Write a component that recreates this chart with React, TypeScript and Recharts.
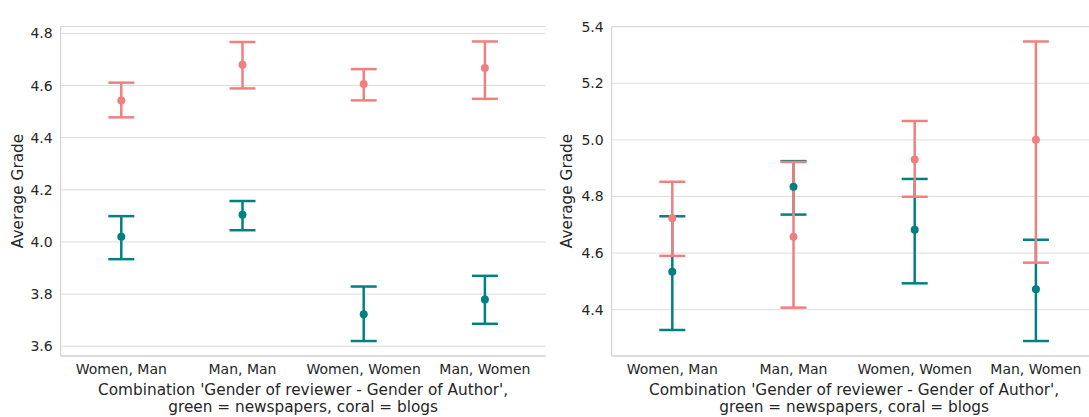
import React from "react";
import { ComposedChart, Line, XAxis, YAxis, CartesianGrid, ErrorBar } from "recharts";

const categories = ["Women, Man", "Man, Man", "Women, Women", "Man, Women"];

// 'Crime & mystery'
const crimeNewsMean = [4.02, 4.104, 3.723, 3.779];
const crimeNewsLow = [3.934, 4.045, 3.62, 3.686];
const crimeNewsHigh = [4.099, 4.157, 3.829, 3.87];
const crimeBlogMean = [4.543, 4.68, 4.606, 4.667];
const crimeBlogLow = [4.478, 4.589, 4.543, 4.549];
const crimeBlogHigh = [4.611, 4.767, 4.663, 4.769];
const crimeTicks = [3.6, 3.8, 4.0, 4.2, 4.4, 4.6, 4.8];

// 'International classics'
const classicNewsMean = [4.534, 4.834, 4.682, 4.472];
const classicNewsLow = [4.328, 4.736, 4.493, 4.289];
const classicNewsHigh = [4.73, 4.925, 4.862, 4.647];
const classicBlogMean = [4.723, 4.658, 4.931, 5.001];
const classicBlogLow = [4.59, 4.407, 4.799, 4.566];
const classicBlogHigh = [4.852, 4.922, 5.067, 5.348];
const classicTicks = [4.4, 4.6, 4.8, 5.0, 5.2, 5.4];

const TEAL = "#008080";
const CORAL = "#f08080";
const TEXT = "#262626";
const GRID = "#dcdcdc";
const SPINE = "#cccccc";
const FONT = "'DejaVu Sans', sans-serif";

function buildRows(nm: number[], nl: number[], nh: number[], bm: number[], bl: number[], bh: number[]) {
  return categories.map((cat, i) => ({
    cat,
    nm: nm[i],
    nErr: [nm[i] - nl[i], nh[i] - nm[i]],
    bm: bm[i],
    bErr: [bm[i] - bl[i], bh[i] - bm[i]],
  }));
}

// matplotlib-style 5% margin around the data extent
function padded(lows: number[], highs: number[]): [number, number] {
  const lo = Math.min(...lows);
  const hi = Math.max(...highs);
  const m = (hi - lo) * 0.05;
  return [lo - m, hi + m];
}

interface PanelProps {
  title: string;
  rows: ReturnType<typeof buildRows>;
  domain: [number, number];
  ticks: number[];
  left: number;
  width: number;
  yAxisWidth: number;
  yLabelX: number;
}

function Panel({ title, rows, domain, ticks, left, width, yAxisWidth, yLabelX }: PanelProps) {
  const tick = { fontSize: 14, fill: TEXT, fontFamily: FONT };
  return (
    <div style={{ position: "absolute", left, top: 0 }}>
      <ComposedChart width={width} height={417} data={rows} margin={{ top: 26.5, right: 0.5, bottom: 0, left: 0 }}>
        <CartesianGrid vertical={false} stroke={GRID} strokeWidth={1} />
        <XAxis
          dataKey="cat" scale="band" interval={0} height={61} tickLine={false}
          axisLine={{ stroke: SPINE }} tick={tick}
          label={{
            content: ({ viewBox }: any) => {
              const cx = viewBox.x + viewBox.width / 2;
              return (
                <text x={cx} y={395} textAnchor="middle" fill={TEXT} fontSize={15.3} fontFamily={FONT}>
                  <tspan x={cx} y={395}>Combination 'Gender of reviewer - Gender of Author',</tspan>
                  <tspan x={cx} y={412}>green = newspapers, coral = blogs</tspan>
                </text>
              );
            },
          }}
        />
        <XAxis
          xAxisId="top" orientation="top" dataKey="cat" scale="band" height={0} tick={false} tickLine={false}
          axisLine={{ stroke: SPINE }}
          label={{
            content: ({ viewBox }: any) => (
              <text x={viewBox.x + viewBox.width / 2} y={20} textAnchor="middle" fill={TEXT} fontSize={15.3} fontFamily={FONT}>
                {title}
              </text>
            ),
          }}
        />
        <YAxis
          type="number" domain={domain} ticks={ticks} allowDataOverflow width={yAxisWidth}
          tickLine={false} axisLine={{ stroke: SPINE }} tick={tick}
          tickFormatter={(v: number) => v.toFixed(1)}
          label={{
            content: () => (
              <text
                x={yLabelX} y={191} textAnchor="middle" dominantBaseline="central"
                transform={`rotate(-90, ${yLabelX}, 191)`} fill={TEXT} fontSize={15.3} fontFamily={FONT}
              >
                Average Grade
              </text>
            ),
          }}
        />
        <YAxis
          yAxisId="right" orientation="right" type="number" domain={domain} allowDataOverflow width={0}
          tick={false} tickLine={false} axisLine={{ stroke: SPINE }}
        />
        <Line dataKey="nm" stroke="none" dot={false} activeDot={false} isAnimationActive={false}>
          <ErrorBar dataKey="nErr" width={13} stroke={TEAL} strokeWidth={2.5} direction="y" isAnimationActive={false} />
        </Line>
        <Line dataKey="bm" stroke="none" dot={false} activeDot={false} isAnimationActive={false}>
          <ErrorBar dataKey="bErr" width={13} stroke={CORAL} strokeWidth={2.5} direction="y" isAnimationActive={false} />
        </Line>
        <Line
          dataKey="nm" stroke="none" activeDot={false} isAnimationActive={false}
          dot={{ r: 4, fill: TEAL, stroke: "none" }}
        />
        <Line
          dataKey="bm" stroke="none" activeDot={false} isAnimationActive={false}
          dot={{ r: 4, fill: CORAL, stroke: "none" }}
        />
      </ComposedChart>
    </div>
  );
}

export default function App() {
  const crimeRows = buildRows(crimeNewsMean, crimeNewsLow, crimeNewsHigh, crimeBlogMean, crimeBlogLow, crimeBlogHigh);
  const classicRows = buildRows(
    classicNewsMean, classicNewsLow, classicNewsHigh, classicBlogMean, classicBlogLow, classicBlogHigh,
  );
  return (
    <div
      style={{
        position: "absolute", left: 0, top: 0, width: 1089, height: 417,
        overflow: "hidden", background: "#fff", fontFamily: FONT,
      }}
    >
      <Panel
        title="'Crime & mystery': Average grades"
        rows={crimeRows}
        domain={padded([...crimeNewsLow, ...crimeBlogLow], [...crimeNewsHigh, ...crimeBlogHigh])}
        ticks={crimeTicks}
        left={0}
        width={546}
        yAxisWidth={60.7}
        yLabelX={17.5}
      />
      <Panel
        title="'International classics': Average grades"
        rows={classicRows}
        domain={padded([...classicNewsLow, ...classicBlogLow], [...classicNewsHigh, ...classicBlogHigh])}
        ticks={classicTicks}
        left={546}
        width={551}
        yAxisWidth={65.7}
        yLabelX={21}
      />
    </div>
  );
}
